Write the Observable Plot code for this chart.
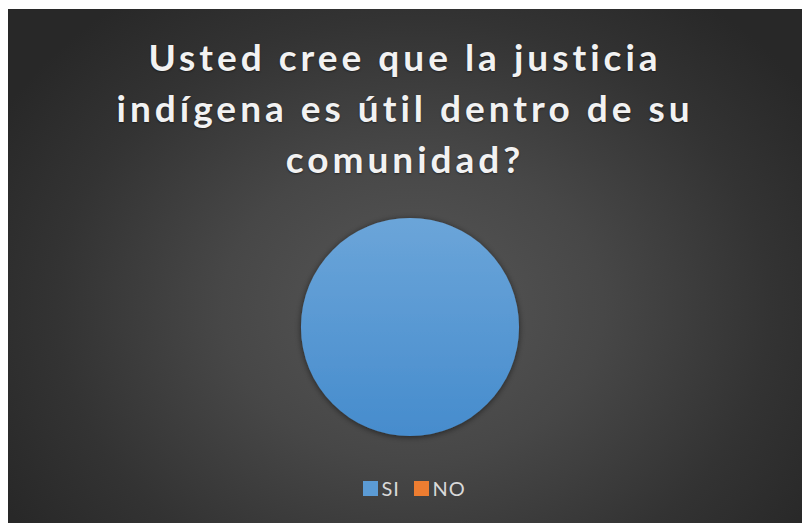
<!DOCTYPE html>
<html>
<head>
<meta charset="utf-8">
<script src="https://cdn.jsdelivr.net/npm/d3@7"></script>
<script src="https://cdn.jsdelivr.net/npm/@observablehq/plot@0.6"></script>
<style>
  html, body { margin: 0; padding: 0; background: #ffffff; }
  #chart {
    position: absolute; left: 8px; top: 9px; width: 794px; height: 514px; overflow: hidden;
    background: radial-gradient(ellipse 60% 75% at 51% 58%, #575757 0%, #474747 40%, #333333 75%, #282828 100%);
    font-family: Lato, "Open Sans", sans-serif;
  }
  #title {
    position: absolute; left: 0; top: 22px; width: 794px; text-align: center;
    color: #f2f2f2; font-weight: 700; font-size: 37px; line-height: 51px; letter-spacing: 4px;
    text-shadow: 0 1px 2px rgba(0,0,0,0.45);
  }
  #plot { position: absolute; left: 0; top: 200px; }
  #legend { position: absolute; left: 9px; top: 466px; width: 794px; height: 26px; display: flex; justify-content: center; align-items: center; }
  #legend .lg-swatches { font-size: 20px !important; letter-spacing: 0.8px; font-family: Lato, "Open Sans", sans-serif !important; color: #d9d9d9 !important; min-height: 26px !important; margin: 0 !important; }
  #legend .lg-swatch { margin-right: 14px !important; }
  #legend .lg-swatch:last-child { margin-right: 0 !important; }
  #legend .lg-swatch svg { margin-right: 4px !important; }
</style>
</head>
<body>
<div id="chart">
  <div id="title">Usted cree que la justicia<br>indígena es útil dentro de su<br>comunidad?</div>
  <div id="plot"></div>
  <div id="legend"></div>
</div>
<script>
const categories = ["SI", "NO"];
const values = [100, 0];
const colors = ["#5b9bd5", "#ed7d31"];

const data = categories.map((c, i) => ({category: c, value: values[i]}));

const pieMark = (index, scales, vals, dims) => {
  const cx = dims.marginLeft + (dims.width - dims.marginLeft - dims.marginRight) / 2;
  const cy = dims.marginTop + (dims.height - dims.marginTop - dims.marginBottom) / 2;
  const r = Math.min(dims.width - dims.marginLeft - dims.marginRight, dims.height - dims.marginTop - dims.marginBottom) / 2;
  const arcs = d3.pie().sort(null).value(d => d.value)(data);
  const arc = d3.arc().innerRadius(0).outerRadius(r);
  const g = d3.create("svg:g").attr("transform", `translate(${cx},${cy})`);
  const defs = g.append("defs");
  const f = defs.append("filter").attr("id", "shadow").attr("x", "-20%").attr("y", "-20%").attr("width", "140%").attr("height", "140%");
  f.append("feDropShadow").attr("dx", 0).attr("dy", 1).attr("stdDeviation", 3).attr("flood-color", "#000").attr("flood-opacity", 0.55);
  arcs.forEach((a, i) => {
    const base = scales.color(a.data.category);
    const lg = defs.append("linearGradient").attr("id", "grad" + i).attr("x1", 0).attr("y1", 0).attr("x2", 0).attr("y2", 1);
    lg.append("stop").attr("offset", "0%").attr("stop-color", d3.interpolateRgb(base, "#ffffff")(0.1));
    lg.append("stop").attr("offset", "100%").attr("stop-color", d3.interpolateRgb(base, "#1f6fbf")(0.35));
  });
  g.selectAll("path").data(arcs.filter(a => a.data.value > 0)).join("path")
    .attr("d", arc)
    .attr("fill", (a) => `url(#grad${arcs.indexOf(a)})`)
    .attr("filter", "url(#shadow)");
  return g.node();
};

const plot = Plot.plot({
  width: 794,
  height: 240,
  marginLeft: 10, marginRight: 0, marginTop: 9, marginBottom: 13,
  style: {background: "transparent"},
  color: {domain: categories, range: colors},
  marks: [pieMark]
});
document.getElementById("plot").appendChild(plot);

const legend = Plot.legend({
  color: {domain: categories, range: colors},
  swatchSize: 15,
  className: "lg",
  style: {color: "#d9d9d9", fontSize: "20px", fontFamily: "Lato, 'Open Sans', sans-serif", background: "transparent"}
});
document.getElementById("legend").appendChild(legend);
</script>
</body>
</html>
